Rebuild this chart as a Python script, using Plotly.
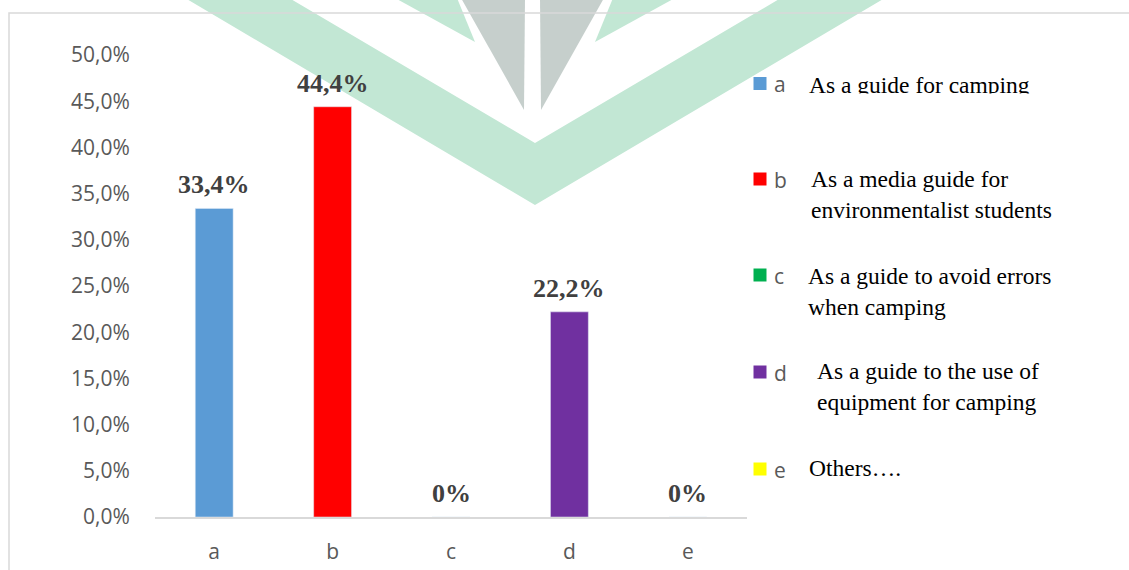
import plotly.graph_objects as go

# ---------------- data ----------------
categories = ["a", "b", "c", "d", "e"]
values = [33.4, 44.4, 0.0, 22.2, 0.0]
value_labels = ["33,4%", "44,4%", "0%", "22,2%", "0%"]
colors = ["#5b9bd5", "#ff0000", "#00b050", "#7030a0", "#ffff00"]
descriptions = [
    "As a guide for camping",
    "As a media guide for<br>environmentalist students",
    "As a guide to avoid errors<br>when camping",
    "As a guide to the use of<br>equipment for camping",
    "Others….",
]
y_ticks = [0, 5, 10, 15, 20, 25, 30, 35, 40, 45, 50]
y_ticktext = [f"{v:.1f}%".replace(".", ",") for v in y_ticks]

# ---------------- layout constants ----------------
W, H = 1129, 570
L, R, T, B = 155, 382, 55, 53
PW, PH = W - L - R, H - T - B


def px(x):
    return (x - L) / PW


def py(y):
    return (H - B - y) / PH


fig = go.Figure()
for cat, val, col in zip(categories, values, colors):
    fig.add_trace(go.Bar(
        x=[cat], y=[val], name=cat, marker_color=col, width=0.32,
        hoverinfo="skip", showlegend=False,
    ))

# data labels
for cat, val, lab in zip(categories, values, value_labels):
    fig.add_annotation(
        x=cat, y=val, text=lab, showarrow=False, yanchor="bottom", yshift=7,
        font=dict(family="Liberation Serif", size=26, color="#404040", weight="bold"),
    )

# legend (squares + letters) and description texts
legend_y = [83.5, 179, 275, 372, 469]
desc_pos = [(807, 70), (809, 164), (806, 261), (815, 356), (807, 453)]
shapes = []

green = "#c2e7d4"
grey = "#c6cfcc"


def path(pts):
    return "M" + " L".join(f"{px(a):.5f},{py(b):.5f}" for a, b in pts) + " Z"


shapes += [
    dict(type="path", xref="paper", yref="paper", layer="below", line_width=0, fillcolor=green,
         path=path([(180, -5), (535, 205), (890, -5), (786, -5), (535, 143), (284, -5)])),
    dict(type="path", xref="paper", yref="paper", layer="below", line_width=0, fillcolor=green,
         path=path([(395, -2), (457, -2), (475, 42)])),
    dict(type="path", xref="paper", yref="paper", layer="below", line_width=0, fillcolor=green,
         path=path([(675, -2), (613, -2), (595, 42)])),
    dict(type="path", xref="paper", yref="paper", layer="below", line_width=0, fillcolor=grey,
         path=path([(461, -2), (525, -2), (524, 110)])),
    dict(type="path", xref="paper", yref="paper", layer="below", line_width=0, fillcolor=grey,
         path=path([(540, -2), (604, -2), (541, 110)])),
    dict(type="rect", xref="paper", yref="paper", layer="below",
         x0=px(9), x1=px(1145), y0=py(13), y1=py(590),
         line=dict(color="#d9d9d9", width=1.5), fillcolor="rgba(0,0,0,0)"),
]

for cat, col, ly, (dx, dy), txt in zip(categories, colors, legend_y, desc_pos, descriptions):
    shapes.append(dict(type="rect", xref="paper", yref="paper",
                       x0=px(753.5), x1=px(766.5), y0=py(ly - 6.5), y1=py(ly + 6.5),
                       line_width=0, fillcolor=col))
    fig.add_annotation(
        x=px(772), y=py(ly + 1), xref="paper", yref="paper", text=cat, showarrow=False,
        xanchor="left", yanchor="middle",
        font=dict(family="Open Sans", size=21, color="#595959"),
    )
    fig.add_annotation(
        x=px(dx), y=py(dy), xref="paper", yref="paper", text=txt, showarrow=False,
        xanchor="left", yanchor="top", align="left",
        font=dict(family="Liberation Serif", size=23.5, color="#000000"),
    )

# the first description box is cut off just below its baseline in the reference
fig.add_annotation(
    x=px(800), y=py(93), xref="paper", yref="paper", text=" ", showarrow=False,
    xanchor="left", yanchor="top", width=250, height=14, borderpad=0,
    bgcolor="white", font=dict(size=6),
)

fig.update_layout(
    width=W, height=H, autosize=False,
    margin=dict(l=L, r=R, t=T, b=B, autoexpand=False),
    paper_bgcolor="white", plot_bgcolor="rgba(0,0,0,0)",
    barmode="overlay",
    shapes=shapes,
    showlegend=False,
    xaxis=dict(
        type="category", showgrid=False, showline=True, linecolor="#d9d9d9", linewidth=1.5,
        ticks="outside", ticklen=15, tickcolor="rgba(0,0,0,0)", automargin=False,
        tickfont=dict(family="Open Sans", size=21, color="#595959"),
        zeroline=False, fixedrange=True,
    ),
    yaxis=dict(
        range=[0, 50], tickvals=y_ticks, ticktext=y_ticktext, automargin=False,
        showgrid=False, showline=False, zeroline=False,
        ticks="outside", ticklen=20, tickcolor="rgba(0,0,0,0)",
        tickfont=dict(family="Open Sans", size=21, color="#595959"),
        fixedrange=True,
    ),
)

fig.write_html("out.html")
